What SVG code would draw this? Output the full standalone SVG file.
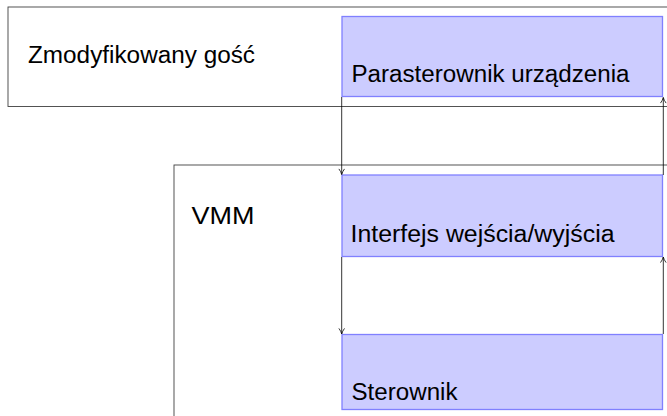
<svg xmlns="http://www.w3.org/2000/svg" width="667" height="416" viewBox="0 0 667 416">
<defs>
<style>
.outer{fill:#ffffff;stroke:#404040;stroke-width:0.9}
.blue{fill:#ccccff;stroke:#8080ff;stroke-width:1.3}
.lbl{font-family:"Liberation Sans","DejaVu Sans",sans-serif;font-size:23px;fill:#000}
.conn{fill:none;stroke:#000;stroke-width:0.8;marker-end:url(#arr)}
</style>
<marker id="arr" viewBox="0 0 10 10" refX="9" refY="5" markerWidth="7" markerHeight="7" markerUnits="userSpaceOnUse" orient="auto">
<path d="M1,1 Q5,4 9,5 Q5,6 1,9" fill="none" stroke="#000" stroke-width="1.1"/>
</marker>
</defs>
<g id="guest">
<rect class="outer" x="8" y="7" width="700" height="99.5"/>
<text class="lbl" x="28" y="63" textLength="227" lengthAdjust="spacingAndGlyphs">Zmodyfikowany gość</text>
</g>
<g id="vmm">
<rect class="outer" x="174" y="165" width="600" height="300"/>
<text class="lbl" x="191.5" y="224" textLength="63" lengthAdjust="spacingAndGlyphs">VMM</text>
</g>
<g id="parasterownik">
<rect class="blue" x="342" y="16.5" width="320.5" height="80"/>
<text class="lbl" x="351.5" y="81.5" textLength="278" lengthAdjust="spacingAndGlyphs">Parasterownik urządzenia</text>
</g>
<g id="interfejs">
<rect class="blue" x="342" y="175" width="320.5" height="81.5"/>
<text class="lbl" x="350.5" y="241.5" textLength="264" lengthAdjust="spacingAndGlyphs">Interfejs wejścia/wyjścia</text>
</g>
<g id="sterownik">
<rect class="blue" x="342" y="334.5" width="320.5" height="75"/>
<text class="lbl" x="351.5" y="400" textLength="106" lengthAdjust="spacingAndGlyphs">Sterownik</text>
</g>
<g id="connectors">
<line class="conn" x1="341.7" y1="97" x2="341.7" y2="174.5"/>
<line class="conn" x1="663.3" y1="175" x2="663.3" y2="97.5"/>
<line class="conn" x1="341.7" y1="257" x2="341.7" y2="334"/>
<line class="conn" x1="663.3" y1="334" x2="663.3" y2="257"/>
</g>
</svg>
